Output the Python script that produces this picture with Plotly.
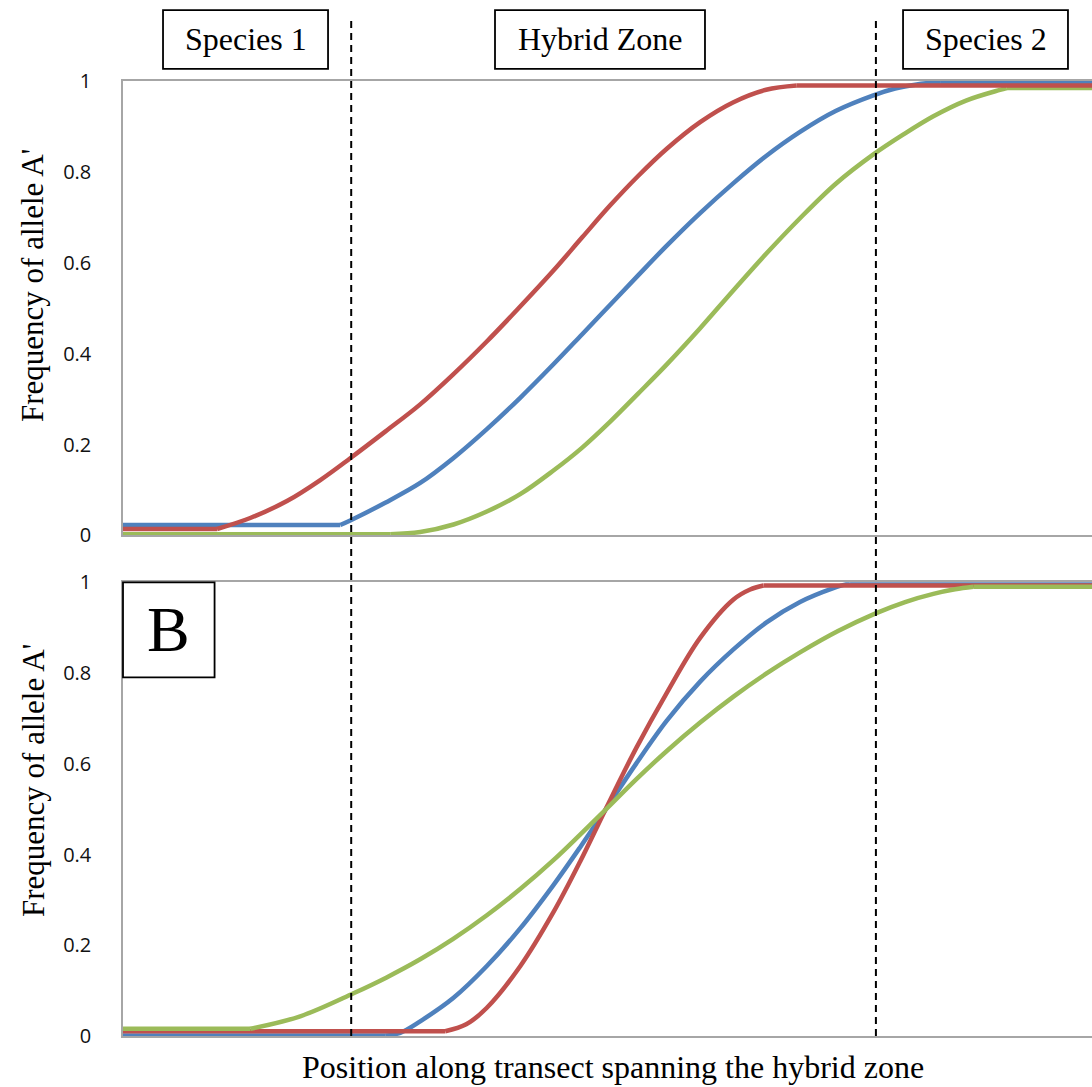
import plotly.graph_objects as go

# ---------------- data ----------------
# Top panel
top_red_x = [0, 9.70, 13.13, 16.92, 20.36, 23.45, 27.06, 30.67, 34.08, 37.54, 40.65, 44.42,
             47.39, 50.28, 53.16, 56.12, 59.56, 63.0, 66.37, 69.53, 100]
top_red_y = [0.0143, 0.0143, 0.0385, 0.0758, 0.122, 0.170, 0.2285, 0.2885, 0.3545, 0.4268,
             0.496, 0.5829, 0.656, 0.7264, 0.791, 0.851, 0.9095, 0.9534, 0.9807, 0.990, 0.990]

top_blue_x = [0, 22.42, 23.45, 27.06, 30.67, 34.08, 37.55, 40.99, 44.42, 47.39, 50.28, 53.16,
              56.12, 59.56, 63.0, 66.37, 69.87, 73.59, 77.44, 79.68, 81.91, 84.32, 100]
top_blue_y = [0.0231, 0.0231, 0.033, 0.072, 0.1155, 0.170, 0.234, 0.303, 0.3767, 0.4429,
              0.5077, 0.5723, 0.6378, 0.7094, 0.7754, 0.835, 0.888, 0.9345, 0.9685, 0.9835,
              0.9925, 0.998, 0.998]

top_green_x = [0, 27.58, 30.67, 34.11, 37.55, 40.99, 44.42, 47.39, 50.28, 53.16, 56.12, 59.56,
               63.0, 66.37, 69.87, 73.59, 77.44, 80.5, 83.63, 87.0, 90.5, 91.2, 100]
top_green_y = [0.0026, 0.0026, 0.0077, 0.0242, 0.0527, 0.0909, 0.1429, 0.1934, 0.2505, 0.3121,
               0.3765, 0.456, 0.5396, 0.6198, 0.698, 0.7745, 0.8385, 0.882, 0.9225, 0.957,
               0.9805, 0.9846, 0.9846]

# Bottom panel (B)
bot_red_x = [0, 33.25, 35.42, 37.55, 40.99, 44.42, 47.18, 49.76, 52.96, 56.12, 59.56, 63.0,
             64.72, 66.09, 100]
bot_red_y = [0.0104, 0.0104, 0.0258, 0.0622, 0.1537, 0.2728, 0.3846, 0.4978, 0.6345, 0.7565,
             0.8776, 0.9621, 0.9841, 0.9929, 0.9929]

bot_blue_x = [0, 27.06, 28.61, 30.67, 34.08, 37.55, 40.99, 44.42, 47.18, 49.76, 52.96, 56.12,
              59.56, 63.0, 66.37, 69.87, 73.31, 75.03, 100]
bot_blue_y = [0.001, 0.001, 0.0071, 0.0324, 0.0836, 0.1542, 0.2371, 0.3326, 0.4162, 0.4978,
              0.6003, 0.695, 0.781, 0.852, 0.911, 0.9565, 0.987, 0.998, 0.998]

bot_green_x = [0, 13.13, 18.29, 23.79, 27.16, 30.67, 34.08, 37.55, 40.99, 44.42, 47.18, 49.76,
               52.96, 56.12, 59.56, 63.0, 66.37, 69.87, 73.79, 77.61, 80.71, 83.63, 85.87,
               87.75, 100]
bot_green_y = [0.0159, 0.0159, 0.0434, 0.0942, 0.1286, 0.169, 0.214, 0.266, 0.3238, 0.3876,
               0.4439, 0.4978, 0.5656, 0.6282, 0.6908, 0.7479, 0.7985, 0.8454, 0.8925, 0.931,
               0.9565, 0.9745, 0.9845, 0.990, 0.990]

zone_bounds = [23.55, 77.7]
y_ticks = [0, 0.2, 0.4, 0.6, 0.8, 1]
y_tick_labels = ["0", "0.2", "0.4", "0.6", "0.8", "1"]
box_labels = ["Species 1", "Hybrid Zone", "Species 2"]
panel_label = "B"
y_title = "Frequency of allele A'"
x_title = "Position along transect spanning the hybrid zone"

RED, BLUE, GREEN = "#C0504D", "#4F81BD", "#9BBB59"
GRAY = "#A6A6A6"
SERIF = "Liberation Serif, Times New Roman, serif"

fig = go.Figure()


def add(x, y, color, axis):
    """Draw flat plateaus as straight lines and the cline itself as a spline."""
    xa = "x" if axis == 1 else "x2"
    ya = "y" if axis == 1 else "y2"
    i0 = 1                      # last index of the lower plateau
    i1 = len(y) - 2             # first index of the upper plateau
    pieces = [(x[:i0 + 1], y[:i0 + 1], "linear"),
              (x[i0:i1 + 1], y[i0:i1 + 1], "spline"),
              (x[i1:], y[i1:], "linear")]
    for px, py, shp in pieces:
        ln = dict(color=color, width=4.5, shape=shp)
        if shp == "spline":
            ln["smoothing"] = 1.0
        fig.add_trace(go.Scatter(x=px, y=py, mode="lines", xaxis=xa, yaxis=ya,
                                 line=ln, showlegend=False, hoverinfo="skip"))


add(top_green_x, top_green_y, GREEN, 1)
add(top_blue_x, top_blue_y, BLUE, 1)
add(top_red_x, top_red_y, RED, 1)
add(bot_blue_x, bot_blue_y, BLUE, 2)
add(bot_red_x, bot_red_y, RED, 2)
add(bot_green_x, bot_green_y, GREEN, 2)

xax = dict(range=[0, 100], showgrid=False, zeroline=False, showticklabels=False,
           ticks="", showline=True, linecolor=GRAY, linewidth=1.5, mirror=True)
yax = dict(range=[0, 1], showgrid=False, zeroline=False, tickvals=y_ticks,
           ticktext=y_tick_labels, ticks="", showline=True, linecolor=GRAY,
           linewidth=1.5, ticklabelstandoff=26,
           tickfont=dict(family="Open Sans, sans-serif", size=20, color="#111111"))

fig.update_layout(
    width=1092, height=1087,
    margin=dict(l=123, r=0, t=81, b=51),
    paper_bgcolor="white", plot_bgcolor="white",
    xaxis=dict(**xax, domain=[0, 1], anchor="y"),
    yaxis=dict(**yax, domain=[0.5241, 1], anchor="x"),
    xaxis2=dict(**xax, domain=[0, 1], anchor="y2"),
    yaxis2=dict(**yax, domain=[0, 0.4751], anchor="x2"),
)

shapes = []
# dashed zone boundaries spanning both panels
for xb in zone_bounds:
    shapes.append(dict(type="line", xref="x", yref="paper", x0=xb, x1=xb,
                       y0=0, y1=1.066, line=dict(color="black", width=2, dash="7px,5px")))

# label boxes (paper coords)
boxes = [(0.0413, 0.2116), (0.3839, 0.6006), (0.8050, 0.9752)]
for (bx0, bx1), lab in zip(boxes, box_labels):
    shapes.append(dict(type="rect", xref="paper", yref="paper", x0=bx0, x1=bx1,
                       y0=1.0126, y1=1.0743, line=dict(color="black", width=1.8),
                       fillcolor="white"))
    fig.add_annotation(x=(bx0 + bx1) / 2, y=1.0435, xref="paper", yref="paper",
                       text=lab, showarrow=False, xanchor="center", yanchor="middle",
                       font=dict(family=SERIF, size=32, color="black"))

# B box
shapes.append(dict(type="rect", xref="paper", yref="paper", x0=0.0, x1=0.0945,
                   y0=0.3756, y1=0.4751, line=dict(color="black", width=1.8),
                   fillcolor="white"))
fig.add_annotation(x=0.0473, y=0.4253, xref="paper", yref="paper", text=panel_label,
                   showarrow=False, xanchor="center", yanchor="middle",
                   font=dict(family=SERIF, size=64, color="black"))

fig.update_layout(shapes=shapes)

# axis titles
for yc in (0.7864, 0.268):
    fig.add_annotation(x=-0.0929, y=yc, xref="paper", yref="paper", text=y_title,
                       textangle=-90, showarrow=False, xanchor="center", yanchor="middle",
                       font=dict(family=SERIF, size=31, color="black"))
fig.add_annotation(x=0.5052, y=-0.0325, xref="paper", yref="paper", text=x_title,
                   showarrow=False, xanchor="center", yanchor="middle",
                   font=dict(family=SERIF, size=32, color="black"))

fig.write_html("out.html")
